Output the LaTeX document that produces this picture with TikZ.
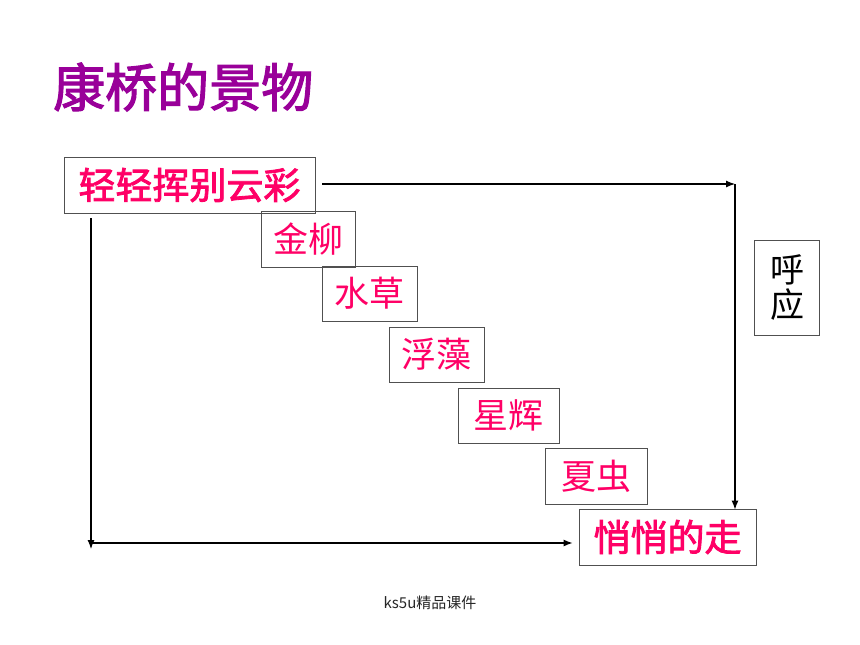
\documentclass[tikz,border=0pt]{standalone}
\usepackage{fontspec}
\setmainfont{Noto Sans CJK SC}
\newfontfamily\semibold[FakeBold=2.2]{Noto Sans CJK SC}
\usetikzlibrary{arrows.meta}
\definecolor{pinkred}{HTML}{FF0066}
\definecolor{titlepurple}{HTML}{990099}
\definecolor{boxgray}{HTML}{505050}
\tikzset{
  box/.style={draw=boxgray, line width=0.9pt, inner sep=0pt, text=pinkred, font=\fontsize{35}{40}\selectfont},
  boldbox/.style={box, font=\fontsize{37}{42}\selectfont\semibold},
  conn/.style={draw=black, line width=1.1pt, -{Latex[length=9pt,width=7pt]}},
}
\begin{document}
\begin{tikzpicture}[x=1pt,y=-1pt]
\useasboundingbox (0,0) rectangle (860,645);
\fill[white] (0,0) rectangle (860,645);
% title
\node[anchor=west, inner sep=0pt, text=titlepurple, font=\fontsize{52}{56}\selectfont\semibold] (title) at (53,87) {康桥的景物};
% boxes
\node[boldbox, minimum width=251, minimum height=56] (b1) at (189.5,185) {轻轻挥别云彩};
\node[box, minimum width=94, minimum height=56] (b2) at (308,239.5) {金柳};
\node[box, minimum width=95, minimum height=55] (b3) at (369.5,293.5) {水草};
\node[box, minimum width=95, minimum height=55] (b4) at (436.5,354.5) {浮藻};
\node[box, minimum width=101, minimum height=55] (b5) at (508.5,415.5) {星辉};
\node[box, minimum width=102, minimum height=56] (b6) at (596,476) {夏虫};
\node[boldbox, minimum width=177, minimum height=56] (zou) at (667.5,537) {悄悄的走};
\node[box, text=black, minimum width=65, minimum height=95, align=center, font=\fontsize{34}{35}\selectfont] (hy) at (787,288) {呼\\应};
% connectors
\coordinate (tr) at (735,184);
\coordinate (bl) at (91,549);
\coordinate (bm) at (91,543);
\draw[conn] ([xshift=7pt]b1.east |- tr) -- (tr);
\draw[conn] (tr) -- ([yshift=-1pt]zou.north -| tr);
\draw[conn] ([yshift=-5pt]b1.south -| bl) -- (bl);
\draw[conn] (bm) -- ([xshift=-6pt]zou.west |- bm);
% footer
\node[inner sep=0pt, text=black!85, font=\fontsize{15}{17}\selectfont] (foot) at (430,603) {ks5u精品课件};
\end{tikzpicture}
\end{document}
